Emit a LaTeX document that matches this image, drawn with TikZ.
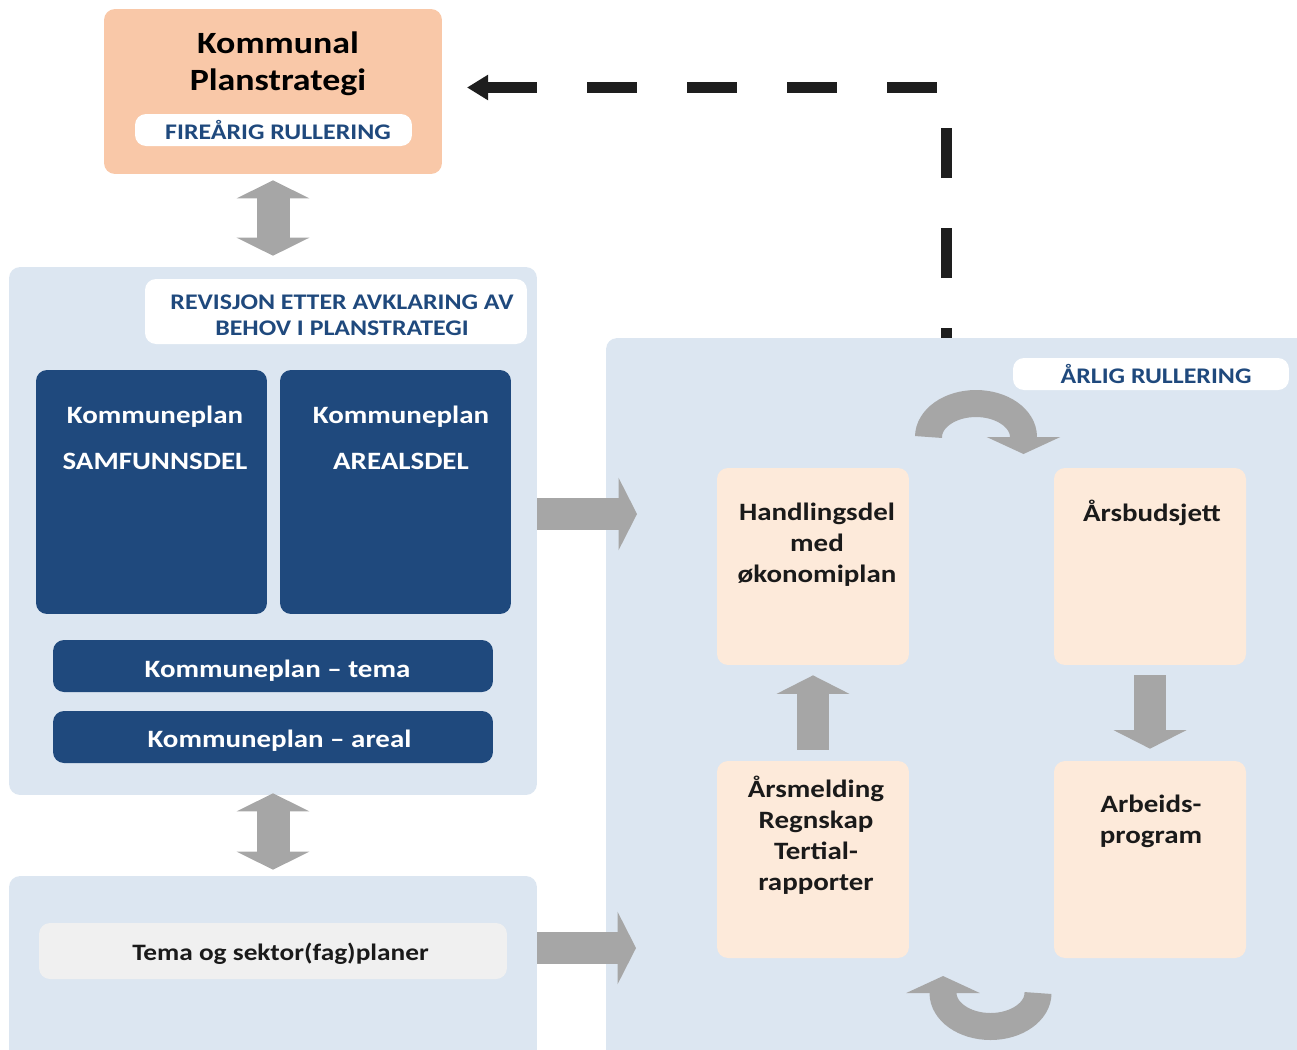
\documentclass[tikz,border=0pt]{standalone}
\usepackage{fontspec}
\setmainfont{Carlito}[FakeStretch=1.16]
\usetikzlibrary{arrows.meta,positioning}

\begin{document}
\begin{tikzpicture}[x=0.02cm,y=-0.02cm,
    box/.style={rounded corners=0.22cm,inner sep=0pt},
    titletext/.style={font=\fontsize{17.6}{21}\selectfont\bfseries,text=r0g0b0,align=center},
    captext/.style={font=\fontsize{12.7}{14.8}\selectfont\bfseries,text=r31g73b125,align=center},
    bodytext/.style={font=\fontsize{14.2}{17.6}\selectfont\bfseries,align=center},
    greyarrow/.style={draw=r166g166b166,line width=0.66cm,{Triangle[width=1.44cm,length=0.36cm]}-{Triangle[width=1.44cm,length=0.36cm]}},
    onearrow/.style={draw=r166g166b166,line width=0.64cm,-{Triangle[width=1.44cm,length=0.37cm]}},
    curvearrow/.style={draw=r166g166b166,line width=0.54cm,-{Triangle[width=1.46cm,length=0.34cm]}},
    dashline/.style={draw=r30g30b30,line width=0.22cm,dash pattern=on 1cm off 1cm,dash phase=0.8cm,-{Triangle[width=0.48cm,length=0.42cm]}}]

    % Colours
    \definecolor{r0g0b0}{rgb}{0.000000,0.000000,0.000000}%
    \definecolor{r26g26b26}{rgb}{0.101961,0.101961,0.101961}%
    \definecolor{r30g30b30}{rgb}{0.117647,0.117647,0.117647}%
    \definecolor{r31g73b125}{rgb}{0.121569,0.286275,0.490196}%
    \definecolor{r249g200b168}{rgb}{0.976471,0.784314,0.658824}%
    \definecolor{r220g230b241}{rgb}{0.862745,0.901961,0.945098}%
    \definecolor{r253g234b218}{rgb}{0.992157,0.917647,0.854902}%
    \definecolor{r240g240b240}{rgb}{0.941176,0.941176,0.941176}%
    \definecolor{r166g166b166}{rgb}{0.650980,0.650980,0.650980}%

    \useasboundingbox (0,0) rectangle (1297,1049);
    \clip (0,0) rectangle (1297,1049);

    % Kommunal planstrategi
    \node[box,fill=r249g200b168,minimum width=6.76cm,minimum height=3.30cm] (kps) at (273,91.5) {};
    \node[titletext] (kpstext) at (278,63.5) {Kommunal\\Planstrategi};
    \node[box,fill=white,minimum width=5.54cm,minimum height=0.64cm] (fire) at (273.5,130) {};
    \node[captext,anchor=base] (firetext) at (278,139) {FIREÅRIG RULLERING};

    % Panel kommuneplan
    \node[box,fill=r220g230b241,minimum width=10.56cm,minimum height=10.56cm] (p1) at (273,531) {};
    \node[box,fill=white,minimum width=7.64cm,minimum height=1.30cm] (rev) at (336,311.5) {};
    \node[captext] (revtext) at (342,315) {REVISJON ETTER AVKLARING AV\\BEHOV I PLANSTRATEGI};
    \node[box,fill=r31g73b125,minimum width=4.62cm,minimum height=4.88cm] (samf) at (151.5,492) {};
    \node[box,fill=r31g73b125,minimum width=4.62cm,minimum height=4.88cm] (areal) at (395.5,492) {};
    \node[bodytext,text=white,font=\fontsize{14.2}{26}\selectfont\bfseries] (samftext) at (155,438) {Kommuneplan\\SAMFUNNSDEL};
    \node[bodytext,text=white,font=\fontsize{14.2}{26}\selectfont\bfseries] (arealtext) at (401,438) {Kommuneplan\\AREALSDEL};
    \node[box,fill=r31g73b125,minimum width=8.80cm,minimum height=1.04cm] (tema) at (273,666) {};
    \node[bodytext,text=white,anchor=base] (tematext) at (277.5,677) {Kommuneplan -- tema};
    \node[box,fill=r31g73b125,minimum width=8.80cm,minimum height=1.04cm] (arealk) at (273,737) {};
    \node[bodytext,text=white,anchor=base] (arealktext) at (279.5,747) {Kommuneplan -- areal};

    % Panel tema og sektorplaner
    \node[box,fill=r220g230b241,minimum width=10.56cm,minimum height=3.68cm] (p2) at (273,968) {};
    \node[box,fill=r240g240b240,minimum width=9.36cm,minimum height=1.12cm] (tsf) at (273,951) {};
    \node[bodytext,font=\fontsize{13.4}{16}\selectfont\bfseries,text=r26g26b26,anchor=base] (tsftext) at (280.5,960) {Tema og sektor(fag)planer};

    % Panel aarlig rullering
    \node[box,fill=r220g230b241,minimum width=14.08cm,minimum height=14.44cm] (rp) at (958,699) {};
    \node[box,fill=white,minimum width=5.52cm,minimum height=0.64cm] (arl) at (1151,374) {};
    \node[captext,anchor=base] (arltext) at (1156,383) {ÅRLIG RULLERING};
    \node[box,fill=r253g234b218,minimum width=3.84cm,minimum height=3.94cm] (hand) at (813,566.5) {};
    \node[box,fill=r253g234b218,minimum width=3.84cm,minimum height=3.94cm] (budsj) at (1150,566.5) {};
    \node[box,fill=r253g234b218,minimum width=3.84cm,minimum height=3.94cm] (arsm) at (813,859.5) {};
    \node[box,fill=r253g234b218,minimum width=3.84cm,minimum height=3.94cm] (arbeid) at (1150,859.5) {};
    \node[bodytext,text=r26g26b26] (handtext) at (817,545) {Handlingsdel\\med\\økonomiplan};
    \node[bodytext,text=r26g26b26] (budsjtext) at (1152,513) {Årsbudsjett};
    \node[bodytext,text=r26g26b26] (arsmtext) at (816,835.5) {Årsmelding\\Regnskap\\Tertial-\\rapporter};
    \node[bodytext,text=r26g26b26] (arbeidtext) at (1151,821.5) {Arbeids-\\program};

    % Drawing grey arrows
    \draw[greyarrow,shorten <=0.12cm,shorten >=0.22cm] (kps.south) -- (p1.north);
    \draw[greyarrow,shorten <=-0.04cm,shorten >=0.12cm] (p1.south) -- (p2.north);
    \coordinate (rarrA) at (637,514);
    \coordinate (rarrB) at (636,948);
    \draw[onearrow] (p1.east |- rarrA) -- (rarrA);
    \draw[onearrow] (p2.east |- rarrB) -- (rarrB);
    \draw[onearrow,shorten <=0.22cm,shorten >=0.2cm] (arsm.north) -- (hand.south);
    \draw[onearrow,shorten <=0.2cm,shorten >=0.24cm] (budsj.south) -- (arbeid.north);

    % Drawing curved arrows
    \draw[curvearrow] (928.5,437) arc[start angle=180,end angle=0,x radius=0.95cm,y radius=0.67cm] -- ++(0,17);
    \draw[curvearrow] (1038,993) arc[start angle=360,end angle=180,x radius=0.95cm,y radius=0.67cm] -- ++(0,-17);

    % Drawing dashed line back to planstrategi
    \coordinate (dashstart) at (946,338);
    \coordinate (dashend) at (467,87.5);
    \draw[dashline] (dashstart) -- (dashstart |- dashend) -- (dashend);
\end{tikzpicture}
\end{document}
